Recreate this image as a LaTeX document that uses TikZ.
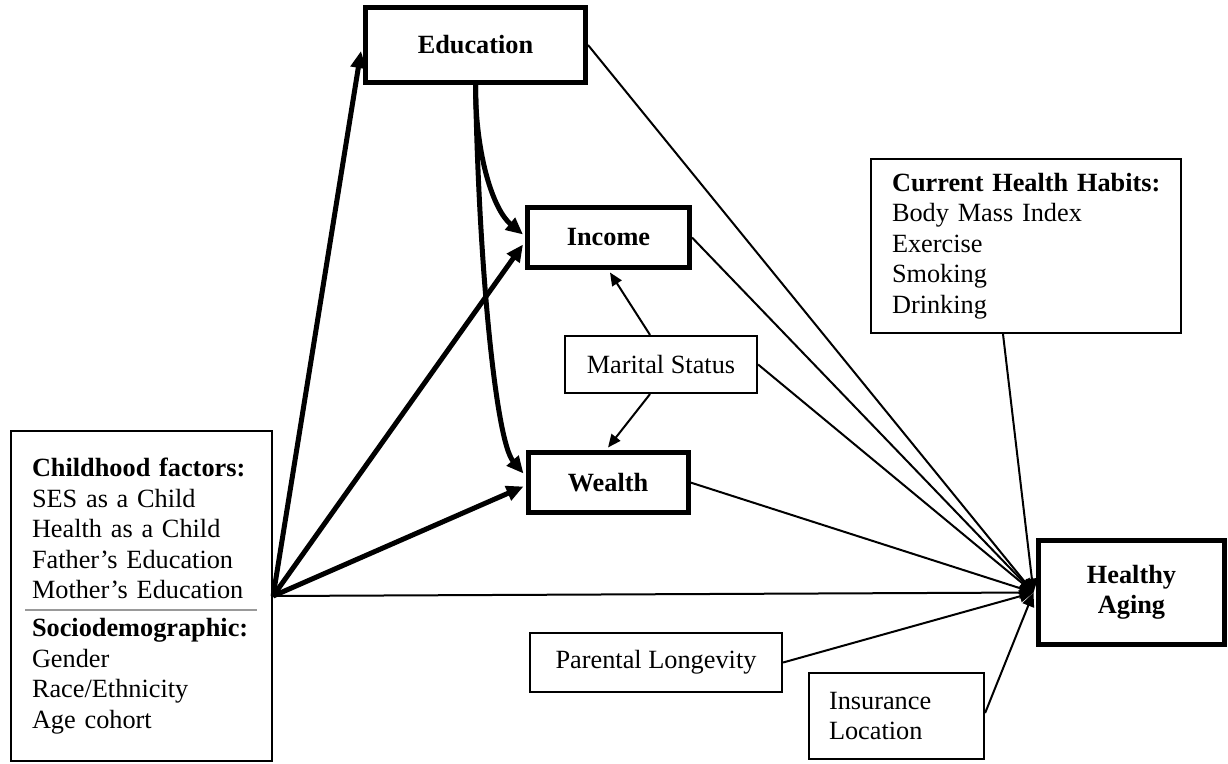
\documentclass[tikz,border=0pt]{standalone}
\usepackage{fontspec}
\setmainfont{Liberation Serif}
\usetikzlibrary{arrows.meta}
\begin{document}
\begin{tikzpicture}[x=1pt,y=1pt,
  base/.style={draw, rectangle, inner sep=0pt, font=\fontsize{26.3}{30.5}\selectfont},
  thickbox/.style={base, line width=5pt, font=\fontsize{26.3}{30.5}\selectfont\bfseries},
  thinbox/.style={base, line width=2.2pt},
  thickarrow/.style={line width=5pt, -{Triangle[length=17pt,width=15pt]}},
  thinarrow/.style={line width=2pt, -{Triangle[length=13pt,width=11pt]}},
  link/.style={line width=2pt, -{Triangle[length=14pt,width=12pt]}},
  divider/.style={draw=gray!80, line width=1.5pt}
]
\useasboundingbox (0,0) rectangle (1228,-763);

\node[thickbox, minimum width=220pt, minimum height=75pt] (edu) at (475.5,-45) {Education};
\node[thickbox, minimum width=162pt, minimum height=60pt] (inc) at (608.5,-237.5) {Income};
\node[thickbox, minimum width=160pt, minimum height=60pt] (wea) at (608,-482.5) {Wealth};
\node[thinbox, minimum width=192pt, minimum height=57pt] (mar) at (661,-364.5) {Marital Status};
\node[thickbox, minimum width=186pt, minimum height=104pt, align=center] (ha) at (1131.5,-592.5) {Healthy\\Aging};
\node[thinbox, minimum width=252pt, minimum height=59pt] (par) at (656,-662.5) {Parental Longevity};
\node[thinbox, minimum width=175pt, minimum height=86pt, text width=135pt, align=left] (ins) at (896.5,-716) {Insurance\\Location};
\node[thinbox, minimum width=310pt, minimum height=174pt, text width=268pt, align=left] (chh) at (1026,-246)
  {\mbox{\textbf{Current Health Habits:}}\\Body Mass Index\\Exercise\\Smoking\\Drinking};
\node[thinbox, minimum width=261pt, minimum height=330pt, text width=219pt, align=left] (lb) at (141.5,-596)
  {\mbox{\textbf{Childhood factors:}}\\SES as a Child\\Health as a Child\\\mbox{Father’s Education}\\\mbox{Mother’s Education}\\[7.5pt]\mbox{\textbf{Sociodemographic:}}\\Gender\\Race/Ethnicity\\Age cohort};
\draw[divider] (25,-610) -- (257,-610);

\coordinate (conv) at ([xshift=-2.5pt]ha.west);
\coordinate (incin) at ([xshift=-2pt,yshift=3pt]inc.west);
\coordinate (weain) at ([xshift=-2pt,yshift=9pt]wea.west);

% thick paths
\draw[thickarrow] (lb.east) -- ([xshift=-2pt,yshift=-6pt]edu.west);
\draw[thickarrow] (lb.east) -- ([xshift=-2pt,yshift=-7pt]inc.west);
\draw[thickarrow] (lb.east) -- ([xshift=-2pt,yshift=-4pt]wea.west);
\draw[thickarrow] (edu.south) .. controls ([yshift=-70pt]edu.south) and ([xshift=-30pt,yshift=25pt]incin) .. (incin);
\draw[thickarrow] (edu.south) .. controls ([xshift=3pt,yshift=-175pt]edu.south) and ([xshift=-28pt,yshift=33pt]weain) .. (weain);

% marital status
\draw[thinarrow] ([xshift=-11pt]mar.north) -- ([xshift=1.5pt,yshift=-2.5pt]inc.south);
\draw[thinarrow] ([xshift=-11pt]mar.south) -- ([yshift=2.5pt]wea.north);

% links to healthy aging
\draw[link] (edu.east) -- (conv);
\draw[link] (inc.east) -- (conv);
\draw[link] (mar.east) -- (conv);
\draw[link] (wea.east) -- (conv);
\draw[link] (lb.east) -- (conv);
\draw[link] ([xshift=-23pt]chh.south) -- (conv);
\draw[link] (par.east) -- (conv);
\draw[link] ([yshift=3pt]ins.east) -- (conv);
\end{tikzpicture}
\end{document}
